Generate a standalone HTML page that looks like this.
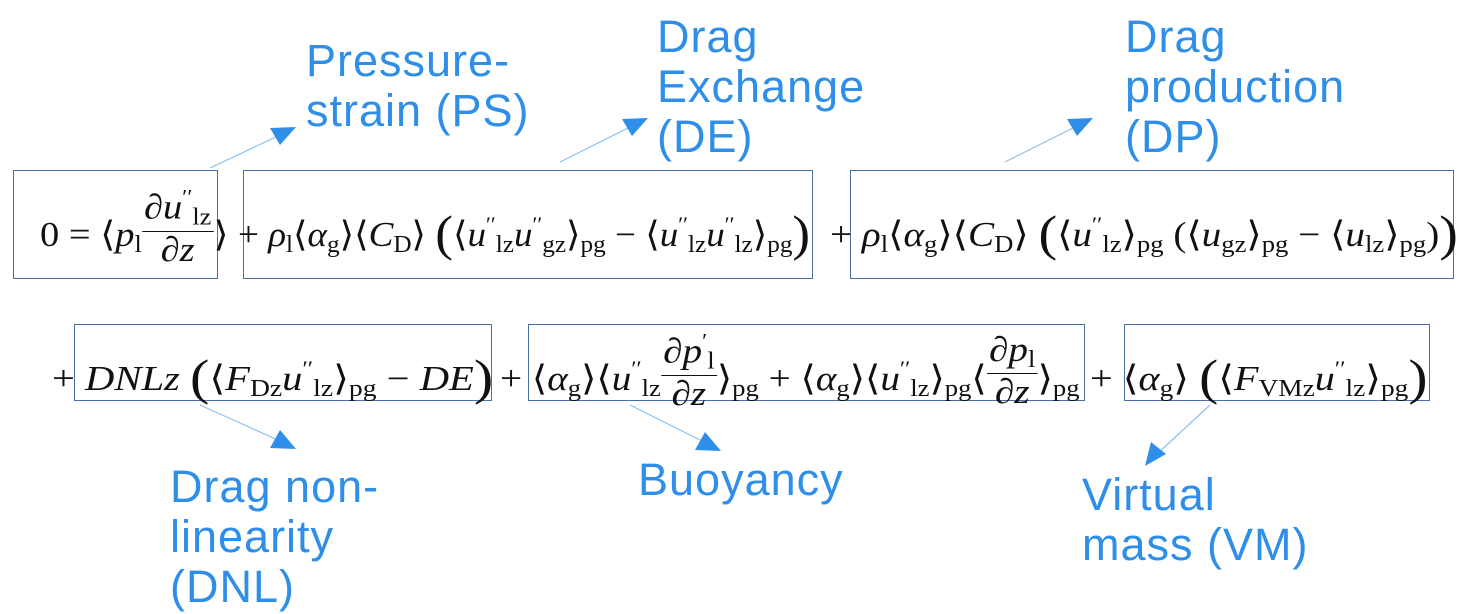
<!DOCTYPE html>
<html><head><meta charset="utf-8"><style>
body{margin:0;width:1473px;height:614px;background:#fff;position:relative;overflow:hidden}
.box{position:absolute;border:1.5px solid #4a6fa5;box-sizing:border-box}
.lab{position:absolute;font-family:"Liberation Sans",sans-serif;font-size:45px;line-height:50px;color:#2f8fe8;white-space:nowrap;letter-spacing:1px}
.m{position:absolute;font-family:"Liberation Serif",serif;font-size:35px;white-space:nowrap;color:#111;line-height:1;transform-origin:0 50%}
.m i{font-style:italic}
sub{font-size:0.68em;vertical-align:-0.25em;font-style:normal}
sup{font-size:0.6em;vertical-align:0.7em}
.fr{display:inline-block;vertical-align:middle;text-align:center;line-height:1.05}
.fr span{display:block}
.fr .n{border-bottom:1.5px solid #111;padding:0 2px}
.big{font-size:50px;vertical-align:-4px}
</style></head><body>
<svg width="1473" height="614" style="position:absolute;left:0;top:0">
<g stroke="#8fc0f0" stroke-width="1.2" fill="#2f8fe8">
<line x1="210" y1="168" x2="280" y2="135"/><polygon stroke="none" points="296,127 270,128 280,145"/>
<line x1="560" y1="162" x2="632" y2="126"/><polygon stroke="none" points="648,118 622,119 632,136"/>
<line x1="1005" y1="162" x2="1077" y2="126"/><polygon stroke="none" points="1093,118 1067,119 1077,136"/>
<line x1="200" y1="405" x2="280" y2="441"/><polygon stroke="none" points="296,449 280,430 270,448"/>
<line x1="630" y1="405" x2="706" y2="443"/><polygon stroke="none" points="721,451 705,432 695,450"/>
<line x1="1210" y1="405" x2="1157" y2="454"/><polygon stroke="none" points="1145,466 1151,442 1166,454"/>
</g></svg>
<div class="box" style="left:13px;top:170px;width:205px;height:109px"></div>
<div class="box" style="left:243px;top:170px;width:570px;height:109px"></div>
<div class="box" style="left:850px;top:170px;width:604px;height:109px"></div>
<div class="box" style="left:74px;top:324px;width:418px;height:77px"></div>
<div class="box" style="left:528px;top:324px;width:557px;height:77px"></div>
<div class="box" style="left:1124px;top:324px;width:306px;height:77px"></div>

<div class="m" style="left:40px;top:208px;transform:scaleX(1.1)">0 = ⟨<i>p</i><sub>l</sub><span class="fr" style="margin-top:-22px"><span class="n">∂<i>u</i><sup>′′</sup><sub>lz</sub></span><span>∂<i>z</i></span></span>⟩</div>
<div class="m" style="left:238px;top:208px;transform:scaleX(1.06)">+ <i>ρ</i><sub>l</sub>⟨<i>α</i><sub>g</sub>⟩⟨<i>C</i><sub>D</sub>⟩ <span class="big">(</span>⟨<i>u</i><sup>′′</sup><sub>lz</sub><i>u</i><sup>′′</sup><sub>gz</sub>⟩<sub>pg</sub> − ⟨<i>u</i><sup>′′</sup><sub>lz</sub><i>u</i><sup>′′</sup><sub>lz</sub>⟩<sub>pg</sub><span class="big">)</span></div>
<div class="m" style="left:830px;top:208px;transform:scaleX(1.12)">+ <i>ρ</i><sub>l</sub>⟨<i>α</i><sub>g</sub>⟩⟨<i>C</i><sub>D</sub>⟩ <span class="big">(</span>⟨<i>u</i><sup>′′</sup><sub>lz</sub>⟩<sub>pg</sub> (⟨<i>u</i><sub>gz</sub>⟩<sub>pg</sub> − ⟨<i>u</i><sub>lz</sub>⟩<sub>pg</sub>)<span class="big">)</span></div>

<div class="m" style="left:52px;top:352px;transform:scaleX(1.16)">+ <i>DNLz</i> <span class="big">(</span>⟨<i>F</i><sub>Dz</sub><i>u</i><sup>′′</sup><sub>lz</sub>⟩<sub>pg</sub> − <i>DE</i><span class="big">)</span></div>
<div class="m" style="left:500px;top:352px;transform:scaleX(1.12)">+ ⟨<i>α</i><sub>g</sub>⟩⟨<i>u</i><sup>′′</sup><sub>lz</sub><span class="fr" style="margin-top:-22px"><span class="n">∂<i>p</i><sup>′</sup><sub>l</sub></span><span>∂<i>z</i></span></span>⟩<sub>pg</sub> + ⟨<i>α</i><sub>g</sub>⟩⟨<i>u</i><sup>′′</sup><sub>lz</sub>⟩<sub>pg</sub>⟨<span class="fr" style="margin-top:-22px"><span class="n">∂<i>p</i><sub>l</sub></span><span>∂<i>z</i></span></span>⟩<sub>pg</sub></div>
<div class="m" style="left:1090px;top:352px;transform:scaleX(1.15)">+ ⟨<i>α</i><sub>g</sub>⟩ <span class="big">(</span>⟨<i>F</i><sub>VMz</sub><i>u</i><sup>′′</sup><sub>lz</sub>⟩<sub>pg</sub><span class="big">)</span></div>

<div class="lab" style="left:306px;top:36px">Pressure-<br>strain (PS)</div>
<div class="lab" style="left:657px;top:12px">Drag<br>Exchange<br>(DE)</div>
<div class="lab" style="left:1125px;top:12px">Drag<br>production<br>(DP)</div>
<div class="lab" style="left:170px;top:462px">Drag non-<br>linearity<br>(DNL)</div>
<div class="lab" style="left:638px;top:455px">Buoyancy</div>
<div class="lab" style="left:1082px;top:470px">Virtual<br>mass (VM)</div>
</body></html>
